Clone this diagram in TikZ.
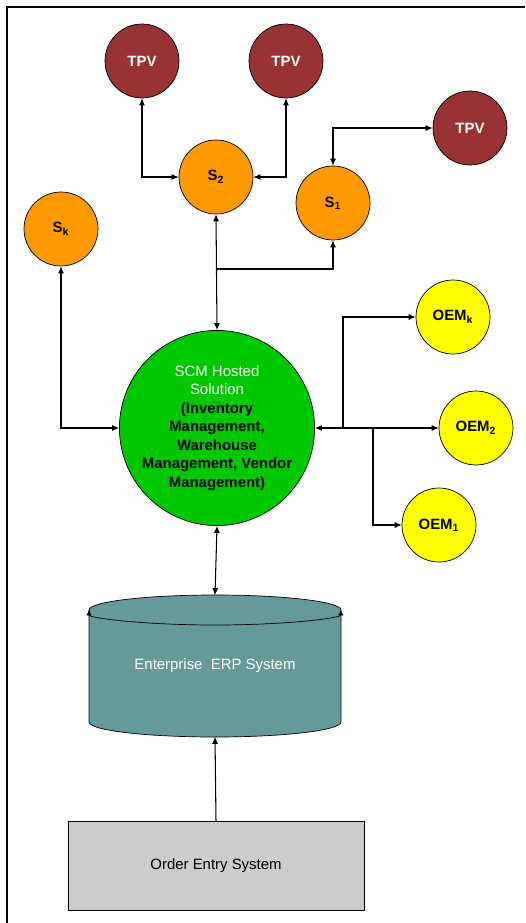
\documentclass[tikz,border=0pt]{standalone}
\usepackage{fontspec}
\setmainfont{Liberation Sans}
\usepackage{tikz}
\usetikzlibrary{arrows.meta,shapes.geometric}

\definecolor{tpvred}{RGB}{153,51,51}
\definecolor{sorange}{RGB}{255,153,0}
\definecolor{oemyellow}{RGB}{255,255,0}
\definecolor{scmgreen}{RGB}{0,200,0}
\definecolor{erpteal}{RGB}{102,153,153}
\definecolor{ordergray}{RGB}{204,204,204}

\begin{document}
\begin{tikzpicture} [x=0.02cm,y=-0.02cm,>={Latex[length=4pt,width=3.5pt]},
    every node/.style={align=center,font=\fontsize{8.5}{10.5}\selectfont},
    bubble/.style={circle, draw, minimum size=1.48cm, inner sep=0pt},
    tpv/.style={bubble, fill=tpvred, text=white, font=\fontsize{8.5}{10}\selectfont\bfseries},
    sup/.style={bubble, fill=sorange, font=\fontsize{8.5}{10}\selectfont\bfseries},
    oem/.style={bubble, fill=oemyellow, font=\fontsize{8.5}{10}\selectfont\bfseries},
    hub/.style={circle, draw, fill=scmgreen, minimum size=3.84cm, inner sep=0pt},
    con/.style={<->, semithick},
    feed/.style={->, semithick}
    ]
    \useasboundingbox (0,0) rectangle (525,923);
    \draw [line width=1pt] (7,923) -- (7,7) -- (525,7);

    \node (tpva) [tpv] at (142,61) {TPV};
    \node (tpvb) [tpv] at (286,61) {TPV};
    \node (tpvc) [tpv] at (470,128) {TPV};
    \node (s2) [sup] at (216,177) {S\textsubscript{2}};
    \node (s1) [sup] at (333,203) {S\textsubscript{1}};
    \node (sk) [sup] at (61,229) {S\textsubscript{k}};
    \node (oemk) [oem] at (453,317) {OEM\textsubscript{k}};
    \node (oem2) [oem] at (476,428) {OEM\textsubscript{2}};
    \node (oem1) [oem] at (439,525) {OEM\textsubscript{1}};
    \node (scm) [hub] at (217,428)
     {\textcolor{white}{SCM Hosted}\\ \textcolor{white}{Solution}\\
      \textbf{(Inventory}\\ \textbf{Management,}\\ \textbf{Warehouse}\\
      \textbf{Management, Vendor}\\ \textbf{Management)}};

    % database drum
    \fill [erpteal, draw=black] (89,610) -- (89,722)
      arc[start angle=180, end angle=360, x radius=2.52cm, y radius=0.3cm]
      -- (341,610)
      arc[start angle=0, end angle=180, x radius=2.52cm, y radius=0.3cm] -- cycle;
    \draw [{Latex[length=3pt,width=3pt]}-{Latex[length=3pt,width=3pt]}] (89,610)
      arc[start angle=180, end angle=360, x radius=2.52cm, y radius=0.3cm];
    \node (erp) [minimum width=5.04cm, minimum height=2.82cm, text=white] at (215,666)
     {Enterprise\ \ ERP System};
    \node (order) [rectangle, draw, fill=ordergray, minimum width=5.92cm,
      minimum height=1.78cm] at (216,866) {Order Entry System};

    \coordinate (j1) at (216,269);
    \coordinate (j2) at (343,428);
    \coordinate (j3) at (373,428);

    \draw [con] (tpva.south) |- (s2.west);
    \draw [con] (tpvb.south) |- (s2.east);
    \draw [con] (s1.north) |- (tpvc.west);
    \draw [con] (s2.south) -- (scm.north);
    \draw [feed] (j1) -| (s1.south);
    \draw [con] (sk.south) |- (scm.west);
    \draw [con] (scm.east) -- (oem2.west);
    \draw [feed] (j2) |- (oemk.west);
    \draw [feed] (j3) |- (oem1.west);
    \draw [con] (scm.south) -- (erp.north);
    \draw [feed] (order.north) -- (erp.south);
\end{tikzpicture}
\end{document}
